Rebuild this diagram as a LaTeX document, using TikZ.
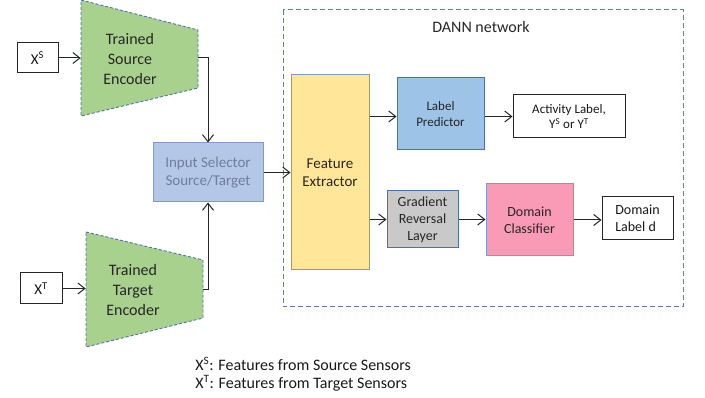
\documentclass[tikz,border=0pt]{standalone}
\usepackage{fontspec}
\setmainfont{Carlito}
\usetikzlibrary{arrows.meta,positioning,calc}
\tikzset{every picture/.style={line width=0.75pt}}

\definecolor{encgreen}{HTML}{A9D18E}
\definecolor{encedge}{HTML}{4A72A8}
\definecolor{selfill}{HTML}{B4C7E7}
\definecolor{seledge}{HTML}{7F9CC8}
\definecolor{seltext}{HTML}{6E7F9E}
\definecolor{fefill}{HTML}{FFE699}
\definecolor{lpfill}{HTML}{9DC3E6}
\definecolor{grlfill}{HTML}{C9C9C9}
\definecolor{dcfill}{HTML}{F99BB7}
\definecolor{dannedge}{HTML}{5B80B8}

\newcommand{\fs}[1]{\fontsize{#1}{1.22\dimexpr#1pt\relax}\selectfont}

\begin{document}
\begin{tikzpicture}[x=1pt,y=-1pt,
    >={Straight Barb[length=7pt,width=11pt]},
    blk/.style={draw=seledge, line width=1pt, inner sep=0pt, align=center, text=black!85},
    io/.style={draw=black!85, fill=white, line width=1pt, inner sep=0pt, align=center, text=black!90},
    enc/.style={draw=encedge, fill=encgreen, line width=0.9pt, dash pattern=on 3pt off 2pt},
    flow/.style={->, line width=1pt, black!85}]
    \useasboundingbox (0,0) rectangle (705,398);

    % encoders (trapezoids)
    \draw[enc] (81,0) -- (198,30) -- (198,88) -- (81,116) -- cycle;
    \draw[enc] (86,232) -- (203,260) -- (203,318) -- (86,347) -- cycle;
    \node[inner sep=0pt, minimum width=117pt, minimum height=116pt] (srcenc) at (139.5,58) {};
    \node[inner sep=0pt, minimum width=117pt, minimum height=115pt] (tgtenc) at (144.5,289.5) {};
    \node[align=center, text=black!85, font=\fs{16}] (srctxt) at (130,59) {Trained\\Source\\Encoder};
    \node[align=center, text=black!85, font=\fs{16}] (tgttxt) at (133,290) {Trained\\Target\\Encoder};

    % inputs
    \node[io, minimum width=41pt, minimum height=30pt, font=\fs{15}] (xs) at (37.5,58) {X\textsuperscript{S}};
    \node[io, minimum width=42pt, minimum height=31pt, font=\fs{15}] (xt) at (41,288.5) {X\textsuperscript{T}};

    % selector
    \node[blk, fill=selfill, text=seltext, minimum width=110pt, minimum height=59pt, font=\fs{15}] (sel) at (208,172.5) {Input Selector\\Source/Target};

    % DANN network
    \draw[dannedge, line width=1pt, dash pattern=on 5pt off 3pt] (283,10) rectangle (683,307);
    \node[font=\fs{16}, text=black!85] (dann) at (481,27) {DANN network};

    \node[blk, fill=fefill, minimum width=78pt, minimum height=195pt, font=\fs{15}] (fe) at (330,172.5) {Feature\\Extractor};
    \node[blk, draw=encedge, fill=lpfill, minimum width=87pt, minimum height=72pt, font=\fs{13}] (lp) at (440.5,114) {Label\\Predictor};
    \node[io, minimum width=112pt, minimum height=43pt, font=\fs{13}] (act) at (569,116.5) {Activity Label,\\Y\textsuperscript{S} or Y\textsuperscript{T}};
    \node[blk, draw=encedge, fill=grlfill, minimum width=71pt, minimum height=57pt, font=\fs{14}] (grl) at (422.5,219.5) {Gradient\\Reversal\\Layer};
    \node[blk, fill=dcfill, minimum width=87pt, minimum height=72pt, font=\fs{14}] (dc) at (529.5,220) {Domain\\Classifier};
    \node[io, minimum width=71pt, minimum height=43pt, align=left, font=\fs{14}] (dl) at (637.5,218.5) {Domain\\Label d};

    % connections
    \draw[flow] (xs) -- (srcenc);
    \draw[flow] (xt.east) -- (xt.east -| tgtenc.west);
    \draw[flow] (srcenc.east) -| (sel.north);
    \draw[flow] (tgtenc.east) -| (sel.south);
    \draw[flow] (sel) -- (fe);
    \draw[flow] (fe.east |- act.west) -- (lp.west |- act.west);
    \draw[flow] (lp.east |- act.west) -- (act.west);
    \draw[flow] (fe.east |- grl.west) -- (grl.west);
    \draw[flow] (grl.east) -- (dc.west |- grl.east);
    \draw[flow] (dc.east) -- (dl.west |- dc.east);

    % legend
    \node[anchor=north west, align=left, inner sep=0pt, text=black!90, font=\fontsize{16}{18}\selectfont] (legend) at (195,357)
        {X\textsuperscript{S}: Features from Source Sensors\\X\textsuperscript{T}: Features from Target Sensors};
\end{tikzpicture}
\end{document}
